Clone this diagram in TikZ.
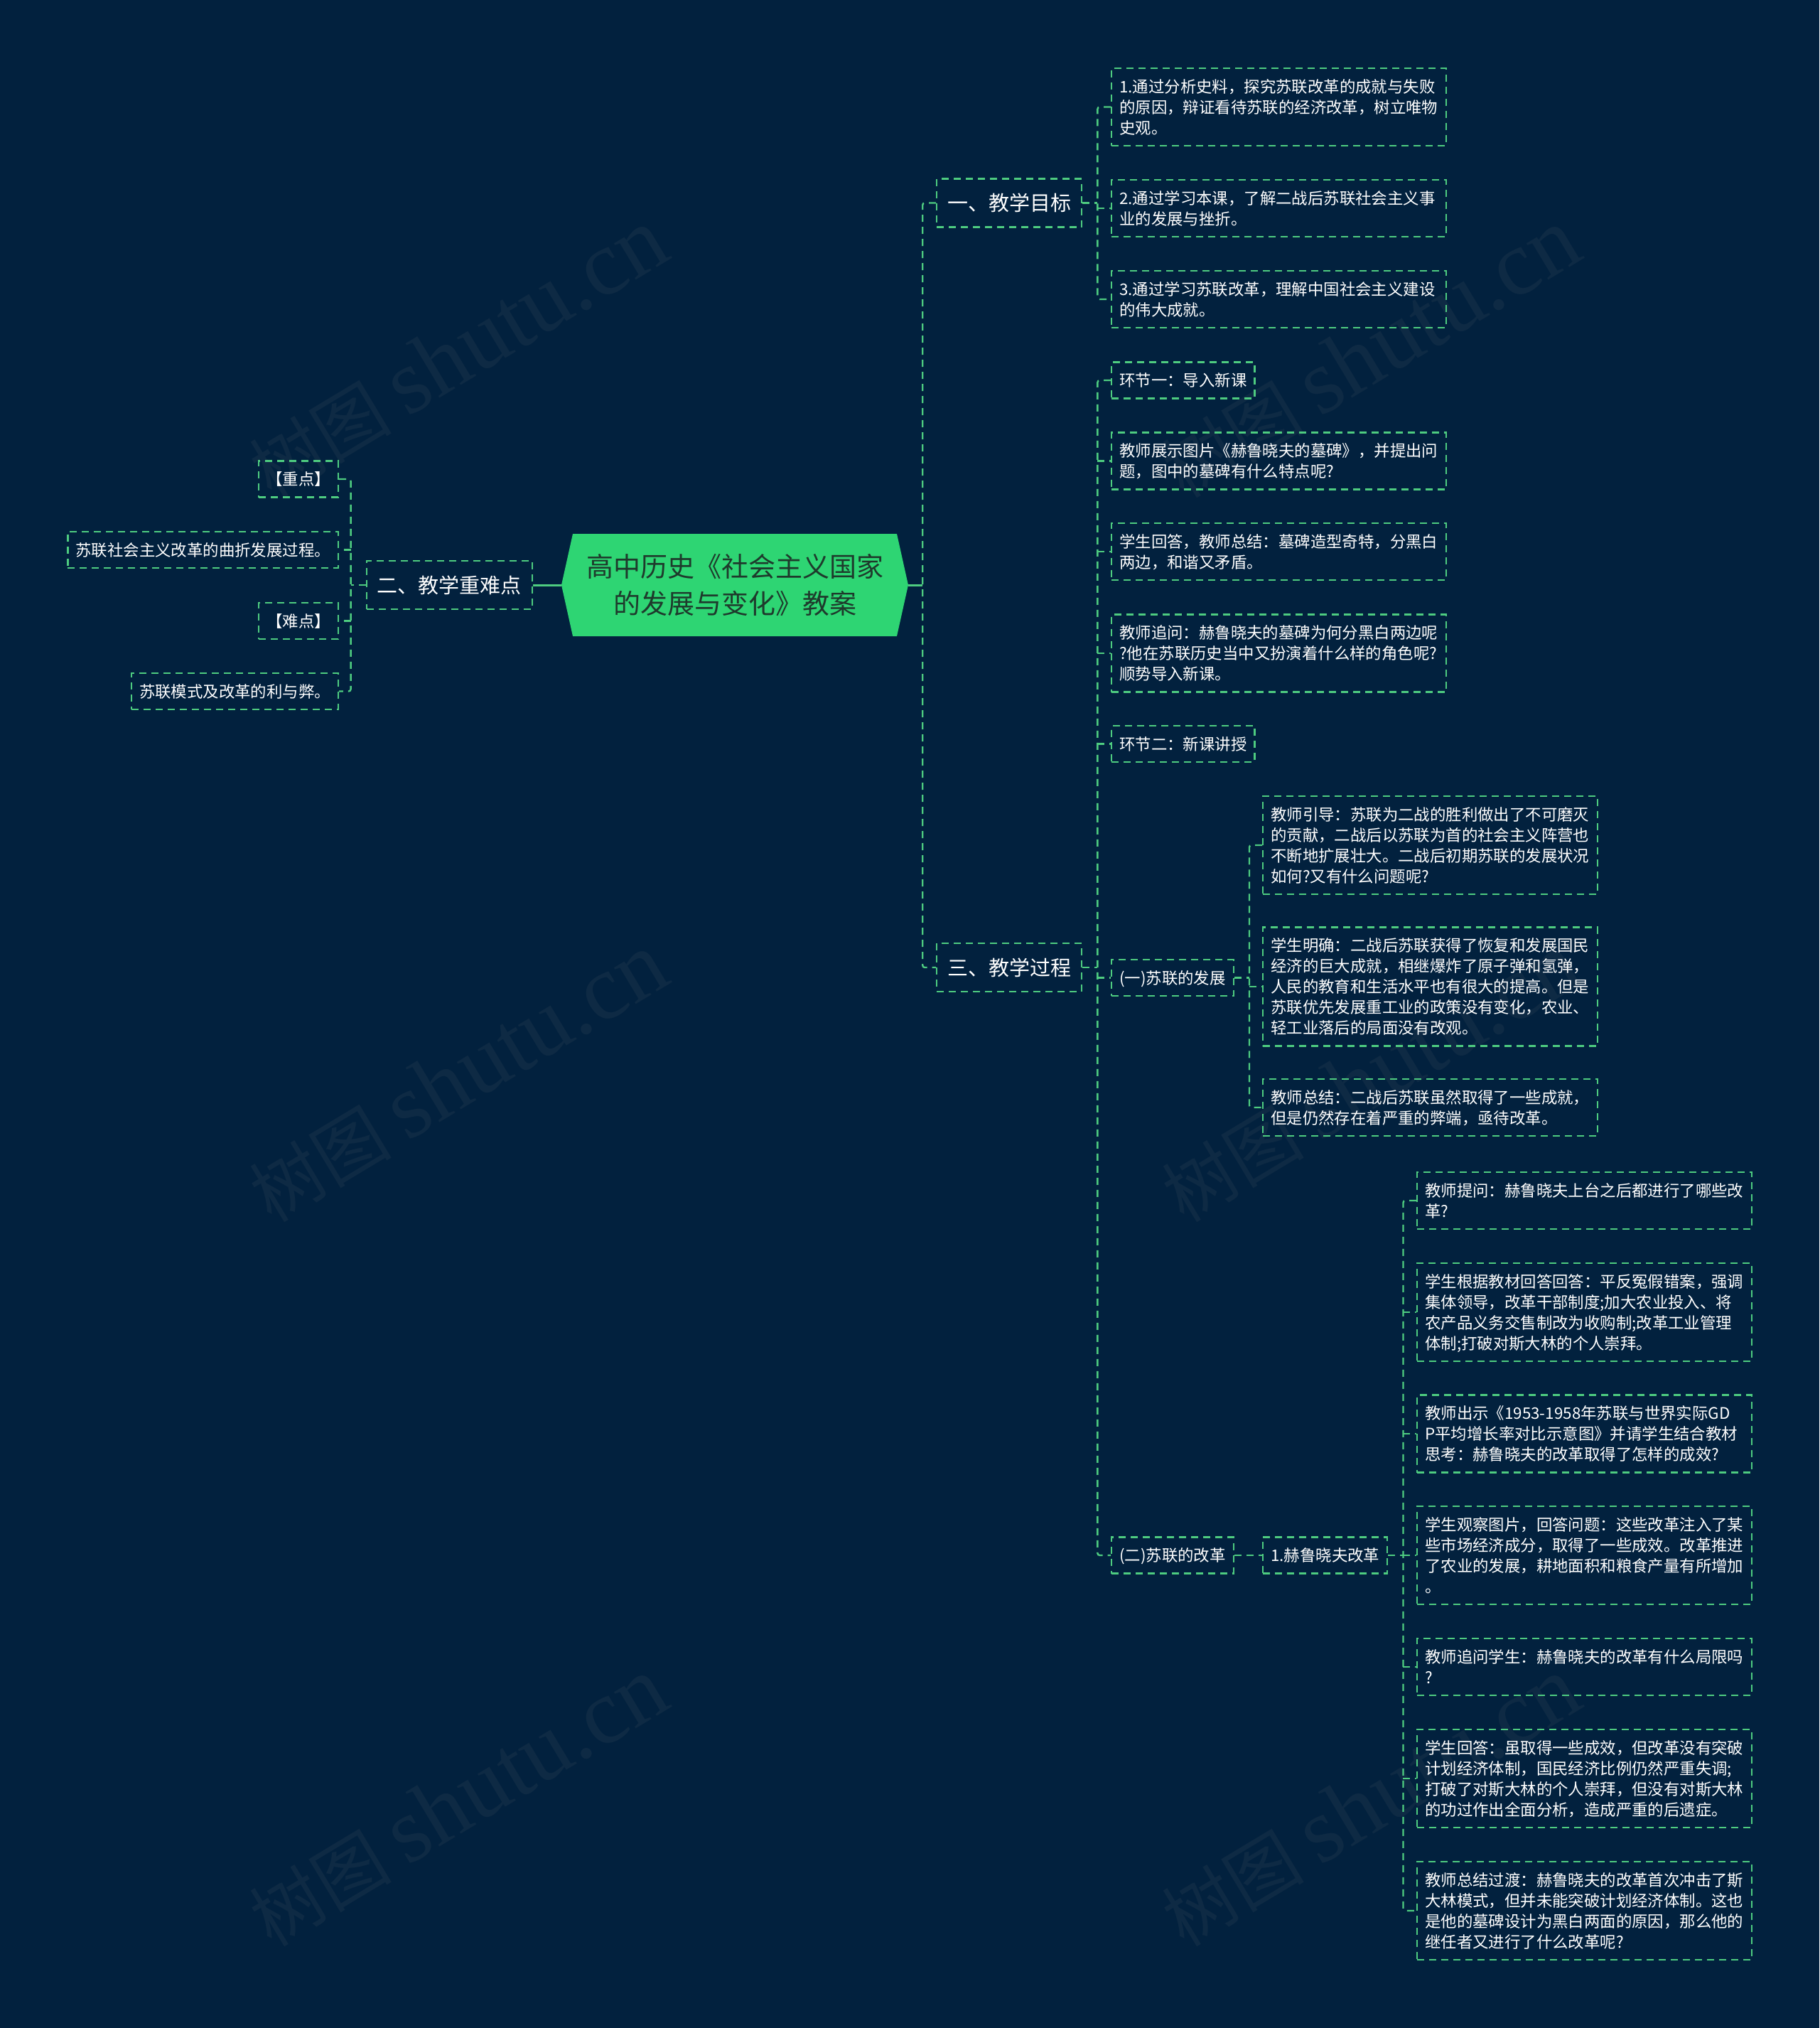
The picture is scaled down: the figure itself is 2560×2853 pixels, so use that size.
\documentclass[tikz,border=0pt]{standalone}
\usepackage{fontspec}
\setmainfont{Noto Sans CJK SC}
\newfontfamily\markfont{Liberation Serif}
\definecolor{navy}{RGB}{2,33,62}
\definecolor{mint}{RGB}{78,204,128}
\definecolor{rootfill}{RGB}{46,213,115}
\definecolor{rootink}{RGB}{30,58,44}
\definecolor{wm}{RGB}{14,42,68}
\newcommand{\lstrut}{\rule[-6pt]{0pt}{29pt}}  % leaf line: 23 up, 6 down
\newcommand{\tstrut}{\rule[-8pt]{0pt}{38pt}}  % topic line

\begin{document}
\begin{tikzpicture}[x=1pt,y=-1pt,
  link/.style={draw=mint,line width=2.4pt,dash pattern=on 10pt off 7pt},
  rootlink/.style={draw=mint,line width=3pt},
  topicbox/.style={draw=mint,line width=2.4pt,dash pattern=on 10pt off 7pt,
    text=white,font=\fontsize{29}{38}\selectfont,inner xsep=15pt,inner ysep=15pt,
    execute at begin node=\tstrut,execute at end node=\tstrut},
  leafbox/.style={draw=mint,line width=2.4pt,dash pattern=on 10pt off 7pt,
    text=white,font=\fontsize{22.4}{29}\selectfont,inner xsep=11pt,inner ysep=11pt,
    execute at begin node=\lstrut,execute at end node=\lstrut},
  notebox/.style={leafbox,text width=449pt,align=left},
  wmtext/.style={text=wm,font=\fontsize{100}{110}\selectfont,rotate=31}]
% canvas: 1pt = 1px of the 2560x2853 sheet, y grows downwards
\useasboundingbox (0,0) rectangle (2560,2853);
\fill[navy] (0,0) rectangle (2560,2853);
% faint watermarks
\foreach \wx/\wy in {644/497,644/1516,644/2535,1928/497,1928/1516,1928/2535}
  \node[wmtext] (wm-\wx-\wy) at (\wx,\wy)
    {树图 {\markfont\fontsize{130}{140}\selectfont shutu.cn}};

% --- root ---
\fill[rootfill] (790,823) -- (806,751) -- (1262,751) -- (1278,823)
  -- (1262,895) -- (806,895) -- cycle;
\node[minimum width=488pt,minimum height=144pt,inner sep=0pt,text=rootink,
  font=\fontsize{38}{52}\selectfont,align=center] (root) at (1034,823)
  {高中历史《社会主义国家\\的发展与变化》教案};

% --- left branch ---
\node[topicbox,anchor=east] (diff) at (750,823) {二、教学重难点};
\node[leafbox,anchor=east] (key1) at (477,674) {【重点】};
\node[leafbox,anchor=east] (key2) at (477,773.5) {苏联社会主义改革的曲折发展过程。};
\node[leafbox,anchor=east] (key3) at (477,873.5) {【难点】};
\node[leafbox,anchor=east] (key4) at (477,972.5) {苏联模式及改革的利与弊。};

% --- right branch: goals ---
\node[topicbox,anchor=west] (goal) at (1317,285.5) {一、教学目标};
\node[notebox,anchor=west] (g1) at (1563,150.5)
  {1.通过分析史料，探究苏联改革的成就与失败\\的原因，辩证看待苏联的经济改革，树立唯物\\史观。};
\node[notebox,anchor=west] (g2) at (1563,293)
  {2.通过学习本课，了解二战后苏联社会主义事\\业的发展与挫折。};
\node[notebox,anchor=west] (g3) at (1563,421)
  {3.通过学习苏联改革，理解中国社会主义建设\\的伟大成就。};

% --- right branch: process ---
\node[topicbox,anchor=west] (proc) at (1317,1361) {三、教学过程};
\node[leafbox,anchor=west] (p1) at (1563,535) {环节一：导入新课};
\node[notebox,anchor=west] (p2) at (1563,648.5)
  {教师展示图片《赫鲁晓夫的墓碑》，并提出问\\题，图中的墓碑有什么特点呢?};
\node[notebox,anchor=west] (p3) at (1563,776)
  {学生回答，教师总结：墓碑造型奇特，分黑白\\两边，和谐又矛盾。};
\node[notebox,anchor=west] (p4) at (1563,919)
  {教师追问：赫鲁晓夫的墓碑为何分黑白两边呢\\?他在苏联历史当中又扮演着什么样的角色呢?\\顺势导入新课。};
\node[leafbox,anchor=west] (p5) at (1563,1046.5) {环节二：新课讲授};
\node[leafbox,anchor=west] (p6) at (1563,1375.5) {(一)苏联的发展};
\node[leafbox,anchor=west] (p7) at (1563,2188) {(二)苏联的改革};

% (一) development
\node[notebox,anchor=west] (d1) at (1776,1189)
  {教师引导：苏联为二战的胜利做出了不可磨灭\\的贡献，二战后以苏联为首的社会主义阵营也\\不断地扩展壮大。二战后初期苏联的发展状况\\如何?又有什么问题呢?};
\node[notebox,anchor=west] (d2) at (1776,1388)
  {学生明确：二战后苏联获得了恢复和发展国民\\经济的巨大成就，相继爆炸了原子弹和氢弹，\\人民的教育和生活水平也有很大的提高。但是\\苏联优先发展重工业的政策没有变化，农业、\\轻工业落后的局面没有改观。};
\node[notebox,anchor=west] (d3) at (1776,1558)
  {教师总结：二战后苏联虽然取得了一些成就，\\但是仍然存在着严重的弊端，亟待改革。};

% (二) reform
\node[leafbox,anchor=west] (r1) at (1776,2188) {1.赫鲁晓夫改革};
\node[notebox,anchor=west] (k1) at (1993,1689)
  {教师提问：赫鲁晓夫上台之后都进行了哪些改\\革?};
\node[notebox,anchor=west] (k2) at (1993,1846)
  {学生根据教材回答回答：平反冤假错案，强调\\集体领导，改革干部制度;加大农业投入、将\\农产品义务交售制改为收购制;改革工业管理\\体制;打破对斯大林的个人崇拜。};
\node[notebox,anchor=west] (k3) at (1993,2017)
  {教师出示《1953-1958年苏联与世界实际GD\\P平均增长率对比示意图》并请学生结合教材\\思考：赫鲁晓夫的改革取得了怎样的成效?};
\node[notebox,anchor=west] (k4) at (1993,2188)
  {学生观察图片，回答问题：这些改革注入了某\\些市场经济成分，取得了一些成效。改革推进\\了农业的发展，耕地面积和粮食产量有所增加\\。};
\node[notebox,anchor=west] (k5) at (1993,2345)
  {教师追问学生：赫鲁晓夫的改革有什么局限吗\\?};
\node[notebox,anchor=west] (k6) at (1993,2502)
  {学生回答：虽取得一些成效，但改革没有突破\\计划经济体制，国民经济比例仍然严重失调;\\打破了对斯大林的个人崇拜，但没有对斯大林\\的功过作出全面分析，造成严重的后遗症。};
\node[notebox,anchor=west] (k7) at (1993,2688)
  {教师总结过渡：赫鲁晓夫的改革首次冲击了斯\\大林模式，但并未能突破计划经济体制。这也\\是他的墓碑设计为黑白两面的原因，那么他的\\继任者又进行了什么改革呢?};

% --- connectors ---
\draw[rootlink] (root.west) -- (diff.east);
\draw[rootlink] (root.east) -- ([xshift=20pt]root.east) coordinate (tr);
\draw[link,rounded corners=3pt] (goal.west) -| (tr |- proc.west) -- (proc.west);

\draw[link] (diff.west) -- ([xshift=-21pt]diff.west) coordinate (tk);
\draw[link,rounded corners=3pt] (key1.east) -| (tk |- key4.east) -- (key4.east);
\foreach \n in {key2,key3} \draw[link] (tk |- \n.east) -- (\n.east);

\draw[link] (goal.east) -- ([xshift=21pt]goal.east) coordinate (tg);
\draw[link,rounded corners=3pt] (g1.west) -| (tg |- g3.west) -- (g3.west);
\draw[link] (tg |- g2.west) -- (g2.west);

\draw[link] (proc.east) -- ([xshift=21pt]proc.east) coordinate (tp);
\draw[link,rounded corners=3pt] (p1.west) -| (tp |- p7.west) -- (p7.west);
\foreach \n in {p2,p3,p4,p5,p6} \draw[link] (tp |- \n.west) -- (\n.west);

\draw[link] (p6.east) -- ([xshift=21pt]p6.east) coordinate (td);
\draw[link,rounded corners=3pt] (d1.west) -| (td |- d3.west) -- (d3.west);
\draw[link] (td |- d2.west) -- (d2.west);

\draw[link] (p7.east) -- (r1.west);
\draw[link] (r1.east) -- ([xshift=21pt]r1.east) coordinate (tq);
\draw[link,rounded corners=3pt] (k1.west) -| (tq |- k7.west) -- (k7.west);
\foreach \n in {k2,k3,k4,k5,k6} \draw[link] (tq |- \n.west) -- (\n.west);
\end{tikzpicture}
\end{document}
